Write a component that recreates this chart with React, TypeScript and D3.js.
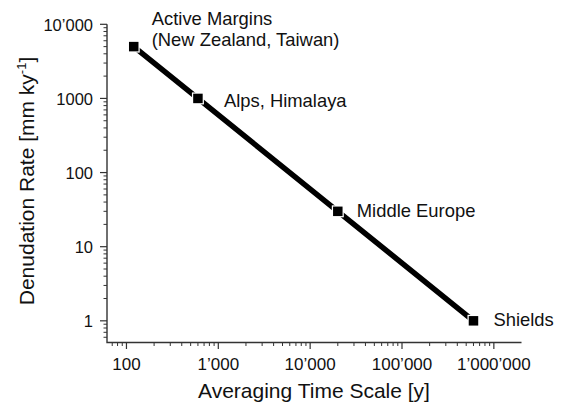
import React, { useEffect, useRef } from 'react';
import * as d3 from 'd3';

// values
const regions = ['Active Margins', 'Alps, Himalaya', 'Middle Europe', 'Shields'];
const timeScales = [120, 600, 20000, 600000];
const denudationRates = [5000, 1000, 30, 1];
const xTickValues = [100, 1000, 10000, 100000, 1000000];
const xTickLabels = ['100', '1\u2019000', '10\u2019000', '100\u2019000', '1\u2019000\u2019000'];
const yTickValues = [1, 10, 100, 1000, 10000];
const yTickLabels = ['1', '10', '100', '1000', '10\u2019000'];

const FONT = '"Liberation Sans", Arial, Helvetica, sans-serif';

const App: React.FC = () => {
  const svgRef = useRef<SVGSVGElement>(null);

  useEffect(() => {
    if (!svgRef.current) return;
    const svg = d3.select(svgRef.current);
    svg.selectAll('*').remove();

    const left = 107;
    const right = 521.5;
    const top = 24.3;
    const bottom = 342.5;

    const xScale = d3.scaleLog().domain([61.4, 2.0e6]).range([left, right]);
    const yScale = d3.scaleLog().domain([0.51, 10000]).range([bottom, top]);

    const g = svg.append('g').style('font-family', FONT);

    // minor ticks
    const minorX: number[] = [];
    const minorY: number[] = [];
    for (let e = 1; e <= 6; e++) {
      for (let m = 2; m <= 9; m++) {
        const v = m * Math.pow(10, e);
        if (v > 61.4 && v < 2.0e6) minorX.push(v);
      }
    }
    for (let e = -1; e <= 3; e++) {
      for (let m = 2; m <= 9; m++) {
        const v = m * Math.pow(10, e);
        if (v > 0.51 && v < 10000) minorY.push(v);
      }
    }

    const axisColor = '#333';

    g.selectAll('line.mx')
      .data(minorX)
      .enter()
      .append('line')
      .attr('x1', d => xScale(d))
      .attr('x2', d => xScale(d))
      .attr('y1', bottom)
      .attr('y2', bottom + 3.5)
      .attr('stroke', axisColor)
      .attr('stroke-width', 1);

    g.selectAll('line.Mx')
      .data(xTickValues)
      .enter()
      .append('line')
      .attr('x1', d => xScale(d))
      .attr('x2', d => xScale(d))
      .attr('y1', bottom)
      .attr('y2', bottom + 6.5)
      .attr('stroke', axisColor)
      .attr('stroke-width', 1.2);

    g.selectAll('line.my')
      .data(minorY)
      .enter()
      .append('line')
      .attr('x1', left)
      .attr('x2', left - 3.5)
      .attr('y1', d => yScale(d))
      .attr('y2', d => yScale(d))
      .attr('stroke', axisColor)
      .attr('stroke-width', 1);

    g.selectAll('line.My')
      .data(yTickValues)
      .enter()
      .append('line')
      .attr('x1', left)
      .attr('x2', left - 7)
      .attr('y1', d => yScale(d))
      .attr('y2', d => yScale(d))
      .attr('stroke', axisColor)
      .attr('stroke-width', 1.2);

    // axis lines
    g.append('path')
      .attr('d', `M${left},${top}V${bottom}H${right}`)
      .attr('fill', 'none')
      .attr('stroke', axisColor)
      .attr('stroke-width', 1.4);

    // tick labels
    g.selectAll('text.xt')
      .data(xTickValues)
      .enter()
      .append('text')
      .attr('x', d => xScale(d))
      .attr('y', 370)
      .attr('text-anchor', 'middle')
      .attr('font-size', 17)
      .attr('fill', '#111')
      .text((d, i) => xTickLabels[i]);

    g.selectAll('text.yt')
      .data(yTickValues)
      .enter()
      .append('text')
      .attr('x', left - 14)
      .attr('y', d => yScale(d) + 6.5)
      .attr('text-anchor', 'end')
      .attr('font-size', 16.5)
      .attr('fill', '#111')
      .text((d, i) => yTickLabels[i]);

    // axis titles
    g.append('text')
      .attr('x', 314)
      .attr('y', 398)
      .attr('text-anchor', 'middle')
      .attr('font-size', 21)
      .attr('fill', '#111')
      .text('Averaging Time Scale [y]');

    const yTitle = g.append('text')
      .attr('transform', `translate(34,${181}) rotate(-90)`)
      .attr('text-anchor', 'middle')
      .attr('font-size', 21)
      .attr('fill', '#111');
    yTitle.append('tspan').text('Denudation Rate [mm ky');
    yTitle.append('tspan').attr('font-size', 13).attr('dy', -8).text('-1');
    yTitle.append('tspan').attr('dy', 8).text(']');

    // data line
    const pts = timeScales.map((t, i) => ({ x: t, y: denudationRates[i], label: regions[i] }));
    const line = d3.line<{ x: number; y: number }>()
      .x(d => xScale(d.x))
      .y(d => yScale(d.y));

    g.append('path')
      .datum(pts)
      .attr('d', line)
      .attr('fill', 'none')
      .attr('stroke', '#000')
      .attr('stroke-width', 5.5);

    const size = 9.5;
    g.selectAll('rect.pt')
      .data(pts)
      .enter()
      .append('rect')
      .attr('x', d => xScale(d.x) - size / 2)
      .attr('y', d => yScale(d.y) - size / 2)
      .attr('width', size)
      .attr('height', size)
      .attr('fill', '#000')
      .attr('stroke', '#fff')
      .attr('stroke-width', 2.5)
      .attr('paint-order', 'stroke');

    // point labels
    const labelOffsets = [
      { dx: 18, dy: -22 },
      { dx: 26, dy: 8.5 },
      { dx: 19, dy: 6 },
      { dx: 20, dy: 5 },
    ];
    pts.forEach((p, i) => {
      g.append('text')
        .attr('x', xScale(p.x) + labelOffsets[i].dx)
        .attr('y', yScale(p.y) + labelOffsets[i].dy)
        .attr('font-size', 18.4)
        .attr('fill', '#111')
        .text(p.label);
      if (i === 0) {
        g.append('text')
          .attr('x', xScale(p.x) + labelOffsets[i].dx)
          .attr('y', yScale(p.y) + labelOffsets[i].dy + 21)
          .attr('font-size', 18.4)
          .attr('fill', '#111')
          .text('(New Zealand, Taiwan)');
      }
    });
  }, []);

  return (
    <svg
      ref={svgRef}
      width={565}
      height={406}
      viewBox="0 0 565 406"
      style={{ position: 'absolute', left: 0, top: 0, background: '#fff' }}
    />
  );
};

export default App;
